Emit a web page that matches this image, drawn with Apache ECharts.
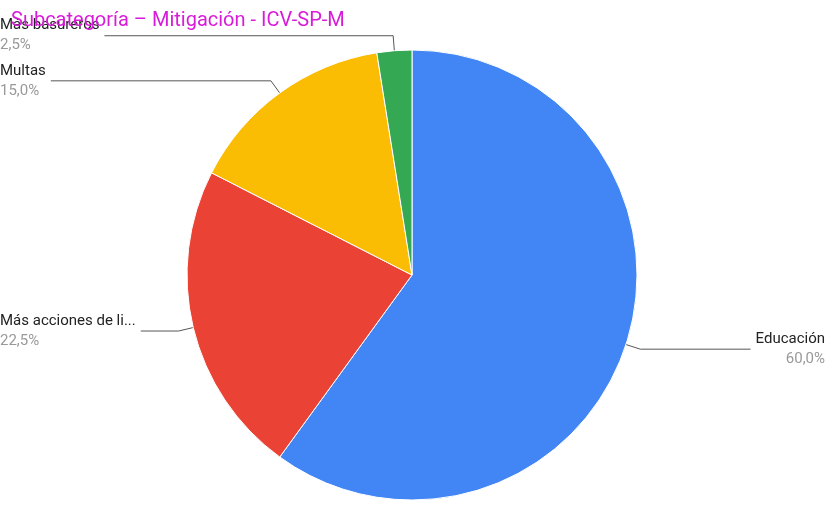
<!DOCTYPE html>
<html>
<head>
<meta charset="utf-8">
<script src="https://cdn.jsdelivr.net/npm/echarts@6/dist/echarts.min.js"></script>
<style>html,body{margin:0;padding:0;background:#fff}#c{width:825px;height:510px}</style>
</head>
<body>
<div id="c"></div>
<script>
var categories = ['Educación', 'Más acciones de lim…', 'Multas', 'Más basureros'];
var values = [24, 9, 6, 1];
var colors = ['#4285f4', '#ea4335', '#fbbc04', '#34a853'];

var chart = echarts.init(document.getElementById('c'));
chart.setOption({
    animation: false,
    title: {
        text: 'Subcategoría – Mitigación - ICV-SP-M',
        left: 6, top: 6,
        textStyle: { color: '#d81bd8', fontSize: 20, fontWeight: 'normal', fontFamily: 'Roboto, Arial' }
    },
    series: [{
        type: 'pie',
        center: [412, 275],
        radius: [0, 225],
        startAngle: 90,
        clockwise: true,
        data: categories.map(function (c, i) {
            return { name: c, value: values[i], itemStyle: { color: colors[i] } };
        }),
        itemStyle: { borderColor: '#fff', borderWidth: 1 },
        label: {
            position: 'outside',
            alignTo: 'edge',
            edgeDistance: 0,
            fontFamily: 'Roboto, Arial',
            formatter: function (p) {
                return '{n|' + p.name + '}\n{p|' + p.percent.toFixed(1).replace('.', ',') + '%}';
            },
            rich: {
                n: { fontSize: 15, color: '#222', lineHeight: 20, fontFamily: 'Roboto, Arial' },
                p: { fontSize: 15, color: '#999', lineHeight: 20, fontFamily: 'Roboto, Arial' }
            }
        },
        labelLine: { show: true, length: 15, length2: 30, lineStyle: { color: '#555', width: 1 } }
    }]
});
</script>
</body>
</html>
